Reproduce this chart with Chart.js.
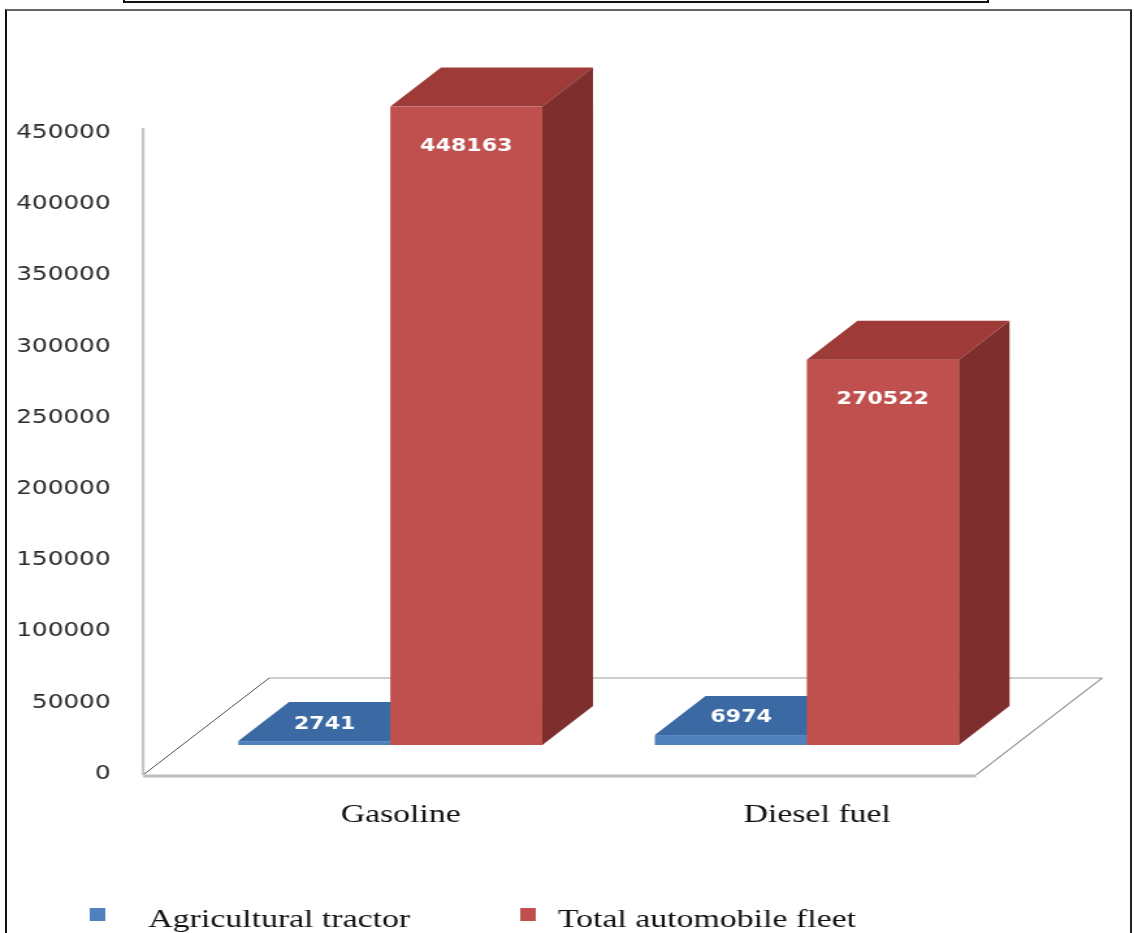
<!DOCTYPE html>
<html>
<head>
<meta charset="utf-8">
<script src="https://cdn.jsdelivr.net/npm/chart.js@4.4.1/dist/chart.umd.min.js"></script>
<style>
  body { margin: 0; background: #fff; overflow: hidden; }
  #wrap { position: relative; width: 1134px; height: 933px; }
  #chart { position: absolute; left: 0; top: 0; transform: scaleX(1.30046); transform-origin: 0 0; }
  #topbox { position: absolute; left: 123px; top: -10px; width: 866px; height: 13px;
            box-sizing: border-box; border: 2px solid #111; z-index: 2; }
  #frame { position: absolute; left: 5px; top: 9px; width: 1127px; height: 1000px;
           box-sizing: border-box; border-left: 2px solid #111; border-right: 2px solid #222;
           border-top: 2px solid #666; z-index: 2; }
</style>
</head>
<body>
<div id="wrap">
  <canvas id="chart" width="872" height="933"></canvas>
  <div id="topbox"></div>
  <div id="frame"></div>
</div>
<script>
// chart data
const categories = ['Gasoline', 'Diesel fuel'];
const seriesNames = ['Agricultural tractor', 'Total automobile fleet'];
const tractorValues = [2741, 6974];
const fleetValues = [448163, 270522];
const yMin = 0;
const yMax = 450000;
const yStep = 50000;

// the reference picture is stretched sideways, so the canvas is drawn narrow and scaled up by css
const depth = 39;       // 3d depth of the columns
const floorFront = 30;  // how far the floor sticks out in front of the columns
const floorBack = 67;   // and behind them

const drawFloor = function(chart) {
    const ctx = chart.ctx;
    const {left, right, bottom} = chart.chartArea;
    const yTop = chart.scales.y.getPixelForValue(yMax) + 24;

    ctx.save();
    ctx.fillStyle = '#ffffff';
    ctx.beginPath();
    ctx.moveTo(left - floorFront, bottom + floorFront);
    ctx.lineTo(left + floorBack, bottom - floorBack);
    ctx.lineTo(right + floorBack, bottom - floorBack);
    ctx.lineTo(right - floorFront, bottom + floorFront);
    ctx.closePath();
    ctx.fill();

    ctx.lineWidth = 1;
    ctx.strokeStyle = '#9a9a9a';
    ctx.beginPath();
    ctx.moveTo(left + floorBack, bottom - floorBack);
    ctx.lineTo(right + floorBack, bottom - floorBack);
    ctx.stroke();

    ctx.strokeStyle = '#555';
    ctx.beginPath();
    ctx.moveTo(left - floorFront, bottom + floorFront);
    ctx.lineTo(left + floorBack, bottom - floorBack);
    ctx.moveTo(right - floorFront, bottom + floorFront);
    ctx.lineTo(right + floorBack, bottom - floorBack);
    ctx.stroke();

    ctx.lineWidth = 3;
    ctx.strokeStyle = '#bdbdbd';
    ctx.beginPath();
    ctx.moveTo(left - floorFront, bottom + floorFront + 1);
    ctx.lineTo(right - floorFront, bottom + floorFront + 1);
    ctx.stroke();

    // wall edge
    ctx.lineWidth = 2.3;
    ctx.strokeStyle = '#c4c4c4';
    ctx.beginPath();
    ctx.moveTo(left - floorFront, bottom + floorFront);
    ctx.lineTo(left - floorFront, yTop);
    ctx.stroke();
    ctx.restore();
};

const drawBox = function(ctx, bar, ds) {
    const {x, y, base, width} = bar.getProps(['x', 'y', 'base', 'width'], true);
    const l = x - width / 2;
    const r = x + width / 2;
    // front face
    ctx.fillStyle = ds.backgroundColor;
    ctx.fillRect(l, y, width, base - y);
    // top face
    ctx.fillStyle = ds.topColor;
    ctx.beginPath();
    ctx.moveTo(l, y);
    ctx.lineTo(l + depth, y - depth);
    ctx.lineTo(r + depth, y - depth);
    ctx.lineTo(r, y);
    ctx.closePath();
    ctx.fill();
    // side face
    ctx.fillStyle = ds.sideColor;
    ctx.beginPath();
    ctx.moveTo(r, y);
    ctx.lineTo(r + depth, y - depth);
    ctx.lineTo(r + depth, base - depth);
    ctx.lineTo(r, base);
    ctx.closePath();
    ctx.fill();
};

const box3d = {
    id: 'box3d',
    beforeDatasetsDraw(chart) {
        drawFloor(chart);
        const ctx = chart.ctx;
        ctx.save();
        // draw category by category, left column first, so the right one covers it
        categories.forEach((c, j) => {
            chart.data.datasets.forEach((ds, i) => {
                drawBox(ctx, chart.getDatasetMeta(i).data[j], ds);
            });
        });
        ctx.restore();
        return false;
    },
    afterDraw(chart) {
        const ctx = chart.ctx;
        ctx.save();
        // value labels
        ctx.font = 'bold 17px "DejaVu Sans"';
        ctx.fillStyle = '#ffffff';
        ctx.textAlign = 'center';
        ctx.textBaseline = 'middle';
        chart.data.datasets.forEach((ds, i) => {
            chart.getDatasetMeta(i).data.forEach((bar, j) => {
                const v = ds.data[j];
                if (i === 0) {
                    ctx.fillText(String(v), bar.x + 8, bar.y - 17);
                } else {
                    ctx.fillText(String(v), bar.x, bar.y + 40);
                }
            });
        });

        // legend along the bottom
        const boxX = [69, 400];
        const textX = [114, 429];
        ctx.font = '26px "Liberation Serif"';
        ctx.textBaseline = 'alphabetic';
        ctx.textAlign = 'left';
        chart.data.datasets.forEach((ds, i) => {
            ctx.fillStyle = ds.backgroundColor;
            ctx.fillRect(boxX[i], 908, 12, 13);
            ctx.fillStyle = '#111';
            ctx.fillText(ds.label, textX[i], 927);
        });
        ctx.restore();
    }
};

const ctx = document.getElementById('chart').getContext('2d');
const chart = new Chart(ctx, {
    type: 'bar',
    data: {
        labels: categories,
        datasets: [{
            label: seriesNames[0],
            data: tractorValues,
            backgroundColor: '#4f81bd',
            topColor: '#3a69a3',
            sideColor: '#2f5686',
        }, {
            label: seriesNames[1],
            data: fleetValues,
            backgroundColor: '#c0504d',
            topColor: '#9e3a37',
            sideColor: '#7e2f2d',
        }]
    },
    options: {
        responsive: false,
        animation: false,
        devicePixelRatio: 1,
        categoryPercentage: 0.73,
        barPercentage: 1,
        layout: {
            padding: { top: 104, left: 0, right: 91.5, bottom: 0 }
        },
        scales: {
            x: {
                grid: { display: false },
                border: { display: false },
                ticks: {
                    font: { family: '"Liberation Serif"', size: 26 },
                    color: '#111',
                    padding: 47,
                    labelOffset: 8,
                },
                afterFit(scale) { scale.height = 188; }
            },
            y: {
                min: yMin,
                max: yMax,
                grid: { display: false },
                border: { display: false },
                ticks: {
                    stepSize: yStep,
                    font: { family: '"DejaVu Sans"', size: 19 },
                    color: '#2b2b2b',
                    padding: 47,
                    labelOffset: 29,
                    callback: v => String(v),
                },
                afterFit(scale) { scale.width = 140; }
            }
        },
        plugins: {
            legend: { display: false },
            tooltip: { enabled: false },
        }
    },
    plugins: [box3d]
});
</script>
</body>
</html>
